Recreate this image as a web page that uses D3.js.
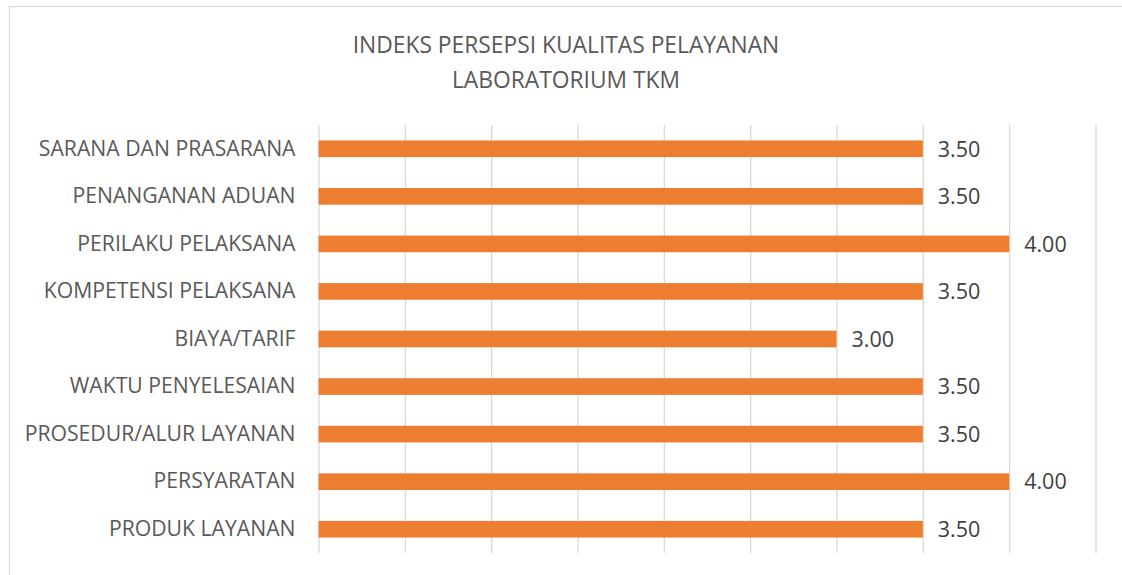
<!DOCTYPE html>
<html>
<head>
<meta charset="utf-8">
<script src="https://cdn.jsdelivr.net/npm/d3@7"></script>
<style>
  html, body { margin: 0; padding: 0; background: #fff; }
  svg { display: block; }
</style>
</head>
<body>
<svg id="chart" width="1122" height="575"></svg>
<script>
const categories = [
  "SARANA DAN PRASARANA",
  "PENANGANAN ADUAN",
  "PERILAKU PELAKSANA",
  "KOMPETENSI PELAKSANA",
  "BIAYA/TARIF",
  "WAKTU PENYELESAIAN",
  "PROSEDUR/ALUR LAYANAN",
  "PERSYARATAN",
  "PRODUK LAYANAN"
];
const values = [3.5, 3.5, 4.0, 3.5, 3.0, 3.5, 3.5, 4.0, 3.5];
const xTicks = [0, 0.5, 1, 1.5, 2, 2.5, 3, 3.5, 4, 4.5];
const titleLines = ["INDEKS PERSEPSI KUALITAS PELAYANAN", "LABORATORIUM TKM"];

const svg = d3.select("#chart");
const font = "'Open Sans', 'Segoe UI', sans-serif";

// chart border
svg.append("rect")
  .attr("x", 9.5).attr("y", 6.5)
  .attr("width", 1130).attr("height", 600)
  .attr("fill", "none").attr("stroke", "#d9d9d9").attr("stroke-width", 1.3);

const plot = { left: 318.5, right: 1095.5, top: 125, bottom: 553 };

const x = d3.scaleLinear().domain([0, 4.5]).range([plot.left, plot.right]);
const y = d3.scaleBand().domain(categories).range([plot.top, plot.bottom]).paddingInner(0.65).paddingOuter(0.325);

// gridlines
const xAxis = d3.axisBottom(x).tickValues(xTicks).tickSize(-(plot.bottom - plot.top)).tickFormat("");
const gx = svg.append("g").attr("transform", `translate(0,${plot.bottom})`).call(xAxis);
gx.select(".domain").remove();
gx.selectAll(".tick line").attr("stroke", "#d9d9d9").attr("stroke-width", 1.3);

// title
svg.append("text")
  .attr("x", 566).attr("y", 53)
  .attr("text-anchor", "middle")
  .attr("font-family", font).attr("font-size", 22.8).attr("fill", "#595959")
  .selectAll("tspan").data(titleLines).join("tspan")
  .attr("x", 566).attr("dy", (d, i) => i === 0 ? 0 : 35)
  .text(d => d);

// category axis
const yAxis = d3.axisLeft(y).tickSize(0).tickPadding(23);
const gy = svg.append("g").attr("transform", `translate(${plot.left},0)`).call(yAxis);
gy.select(".domain").remove();
gy.selectAll(".tick text")
  .attr("font-family", font).attr("font-size", 21.2).attr("fill", "#595959");

// bars
svg.append("g").selectAll("rect").data(values).join("rect")
  .attr("x", x(0))
  .attr("y", (d, i) => y(categories[i]))
  .attr("width", d => x(d) - x(0))
  .attr("height", y.bandwidth())
  .attr("fill", "#ED7D31");

// value labels
svg.append("g").selectAll("text").data(values).join("text")
  .attr("x", d => x(d) + 15)
  .attr("y", (d, i) => y(categories[i]) + y.bandwidth() / 2)
  .attr("dy", "0.36em")
  .attr("font-family", font).attr("font-size", 21.5).attr("fill", "#404040")
  .text(d => d.toFixed(2));
</script>
</body>
</html>
